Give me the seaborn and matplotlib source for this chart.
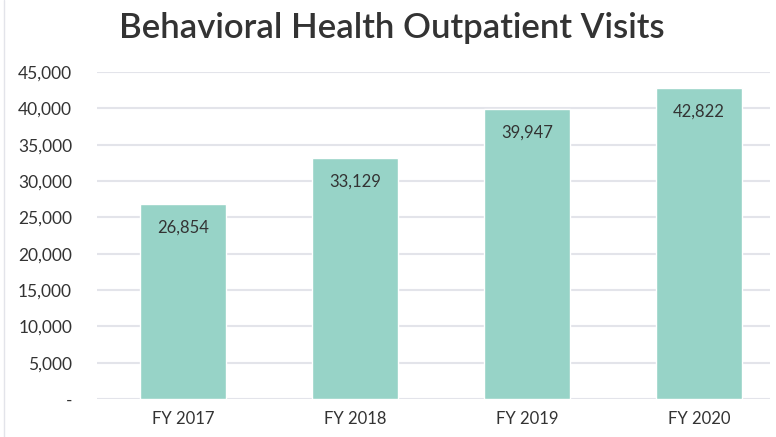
import matplotlib
matplotlib.use("Agg")
import matplotlib.pyplot as plt
import seaborn as sns
import pandas as pd
from matplotlib.ticker import FuncFormatter

categories = ["FY 2017", "FY 2018", "FY 2019", "FY 2020"]
visits = [26854, 33129, 39947, 42822]
yticks = [0, 5000, 10000, 15000, 20000, 25000, 30000, 35000, 40000, 45000]

sns.set_theme(style="white")
plt.rcParams['font.family'] = ['Lato', 'DejaVu Sans']

df = pd.DataFrame({"year": categories, "visits": visits})

fig = plt.figure(figsize=(7.76, 4.37), dpi=100)
ax = fig.add_axes([97/776, 38/437, 673/776, (399-72)/437])

sns.barplot(data=df, x="year", y="visits", color="#97D3C7", width=0.5,
            saturation=1, ax=ax, zorder=3)

ax.set_xlim(-0.5, 3.413)
ax.set_ylim(0, 45000)
ax.set_yticks(yticks)
ax.yaxis.set_major_formatter(FuncFormatter(lambda v, p: "-" if v == 0 else f"{int(v):,}"))
ax.grid(axis="y", color="#E3E4EA", linewidth=1.5, zorder=0)
ax.set_axisbelow(True)
for s in ax.spines.values():
    s.set_visible(False)
ax.set_xlabel("")
ax.set_ylabel("")
ax.tick_params(axis="both", length=0, labelsize=12, labelcolor="#333333")
ax.tick_params(axis="y", pad=18, labelsize=12.5)
ax.tick_params(axis="x", pad=9)

for i, v in enumerate(visits):
    ax.annotate(f"{v:,}", (i, v), xytext=(0, -17), textcoords="offset points",
                ha="center", va="center", fontsize=12, color="#333333", zorder=4)

fig.text(0.505, 0.937, "Behavioral Health Outpatient Visits", ha="center", va="center",
         fontsize=25, color="#333333", fontweight="semibold",
         family=['Lato', 'DejaVu Sans'])

fig.add_artist(plt.Line2D([4/776, 4/776], [0, 1], color="#E3E4EA", linewidth=1))

fig.savefig("out.png", dpi=100)
